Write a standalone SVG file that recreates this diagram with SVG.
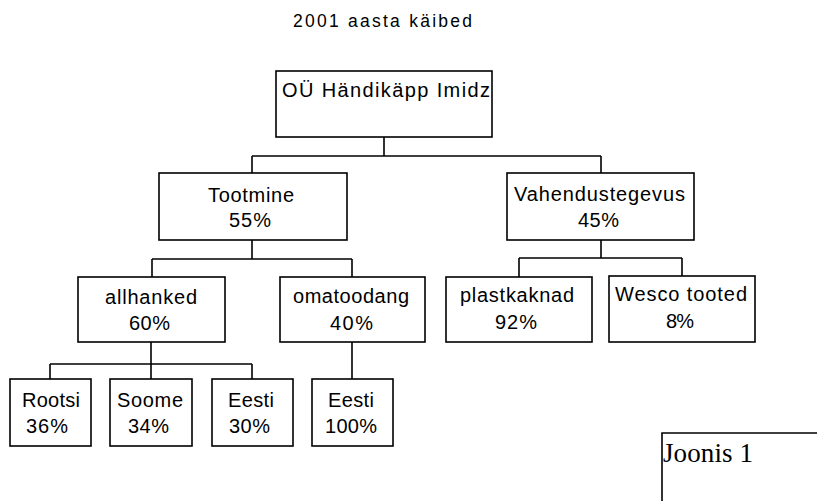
<svg xmlns="http://www.w3.org/2000/svg" width="817" height="501" viewBox="0 0 817 501">
<style>
.box{fill:#fff;stroke:#000;stroke-width:1.6}
.t{font-family:"Liberation Sans",Arial,sans-serif;font-size:20px;fill:#000;text-anchor:middle}
.title{font-family:"Liberation Sans",Arial,sans-serif;font-size:17.5px;fill:#000;text-anchor:middle}
.c{fill:none;stroke:#000;stroke-width:1.6}
.j{font-family:"Liberation Serif","Times New Roman",serif;font-size:27px;fill:#000}
</style>
<rect width="817" height="501" fill="#fff"/>
<text class="title" x="382.5" y="27" textLength="179" lengthAdjust="spacing">2001 aasta käibed</text>
<g id="connectors">
<path class="c" d="M384,137V156M252,156H601M252,156V173M601,156V173"/>
<path class="c" d="M252,240V259M152,259H352M152,259V277M352,259V277"/>
<path class="c" d="M601,240V258M519,258H682M519,258V277M682,258V276"/>
<path class="c" d="M151,342V364M50,364H252M50,364V379M151,364V379M252,364V379"/>
<path class="c" d="M352,342V379"/>
</g>
<g id="root">
<rect class="box" x="276" y="71" width="216" height="66"/>
<text class="t" x="386" y="97" textLength="208" lengthAdjust="spacing">OÜ Händikäpp Imidz</text>
</g>
<g id="tootmine">
<rect class="box" x="159" y="173" width="188" height="67"/>
<text class="t" x="251" y="202" textLength="86" lengthAdjust="spacing">Tootmine</text>
<text class="t" x="250" y="227" textLength="42" lengthAdjust="spacing">55%</text>
</g>
<g id="vahendustegevus">
<rect class="box" x="507" y="173" width="187" height="67"/>
<text class="t" x="599.5" y="201" textLength="171" lengthAdjust="spacing">Vahendustegevus</text>
<text class="t" x="598.5" y="227" textLength="41" lengthAdjust="spacing">45%</text>
</g>
<g id="allhanked">
<rect class="box" x="78" y="277" width="147" height="65"/>
<text class="t" x="151" y="304" textLength="92" lengthAdjust="spacing">allhanked</text>
<text class="t" x="149.5" y="330" textLength="41" lengthAdjust="spacing">60%</text>
</g>
<g id="omatoodang">
<rect class="box" x="280" y="277" width="145" height="65"/>
<text class="t" x="351" y="303" textLength="116" lengthAdjust="spacing">omatoodang</text>
<text class="t" x="351.5" y="330" textLength="43" lengthAdjust="spacing">40%</text>
</g>
<g id="plastkaknad">
<rect class="box" x="446" y="277" width="146" height="65"/>
<text class="t" x="517" y="302" textLength="114" lengthAdjust="spacing">plastkaknad</text>
<text class="t" x="516" y="329" textLength="42" lengthAdjust="spacing">92%</text>
</g>
<g id="wesco">
<rect class="box" x="609" y="276" width="146" height="66"/>
<text class="t" x="681" y="301" textLength="132" lengthAdjust="spacing">Wesco tooted</text>
<text class="t" x="680" y="328" textLength="28" lengthAdjust="spacing">8%</text>
</g>
<g id="rootsi">
<rect class="box" x="10" y="379" width="81" height="67"/>
<text class="t" x="51" y="407" textLength="58" lengthAdjust="spacing">Rootsi</text>
<text class="t" x="47" y="433" textLength="42" lengthAdjust="spacing">36%</text>
</g>
<g id="soome">
<rect class="box" x="110" y="379" width="82" height="67"/>
<text class="t" x="150" y="407" textLength="66" lengthAdjust="spacing">Soome</text>
<text class="t" x="148.5" y="433" textLength="41" lengthAdjust="spacing">34%</text>
</g>
<g id="eesti1">
<rect class="box" x="212" y="379" width="81" height="67"/>
<text class="t" x="251" y="407" textLength="46" lengthAdjust="spacing">Eesti</text>
<text class="t" x="249.5" y="433" textLength="41" lengthAdjust="spacing">30%</text>
</g>
<g id="eesti2">
<rect class="box" x="312" y="379" width="81" height="67"/>
<text class="t" x="351" y="407" textLength="46" lengthAdjust="spacing">Eesti</text>
<text class="t" x="351" y="433" textLength="52" lengthAdjust="spacing">100%</text>
</g>
<g id="joonis">
<path class="c" d="M662,501V433H817"/>
<text class="j" x="663" y="462" textLength="90" lengthAdjust="spacing">Joonis 1</text>
</g>
</svg>
